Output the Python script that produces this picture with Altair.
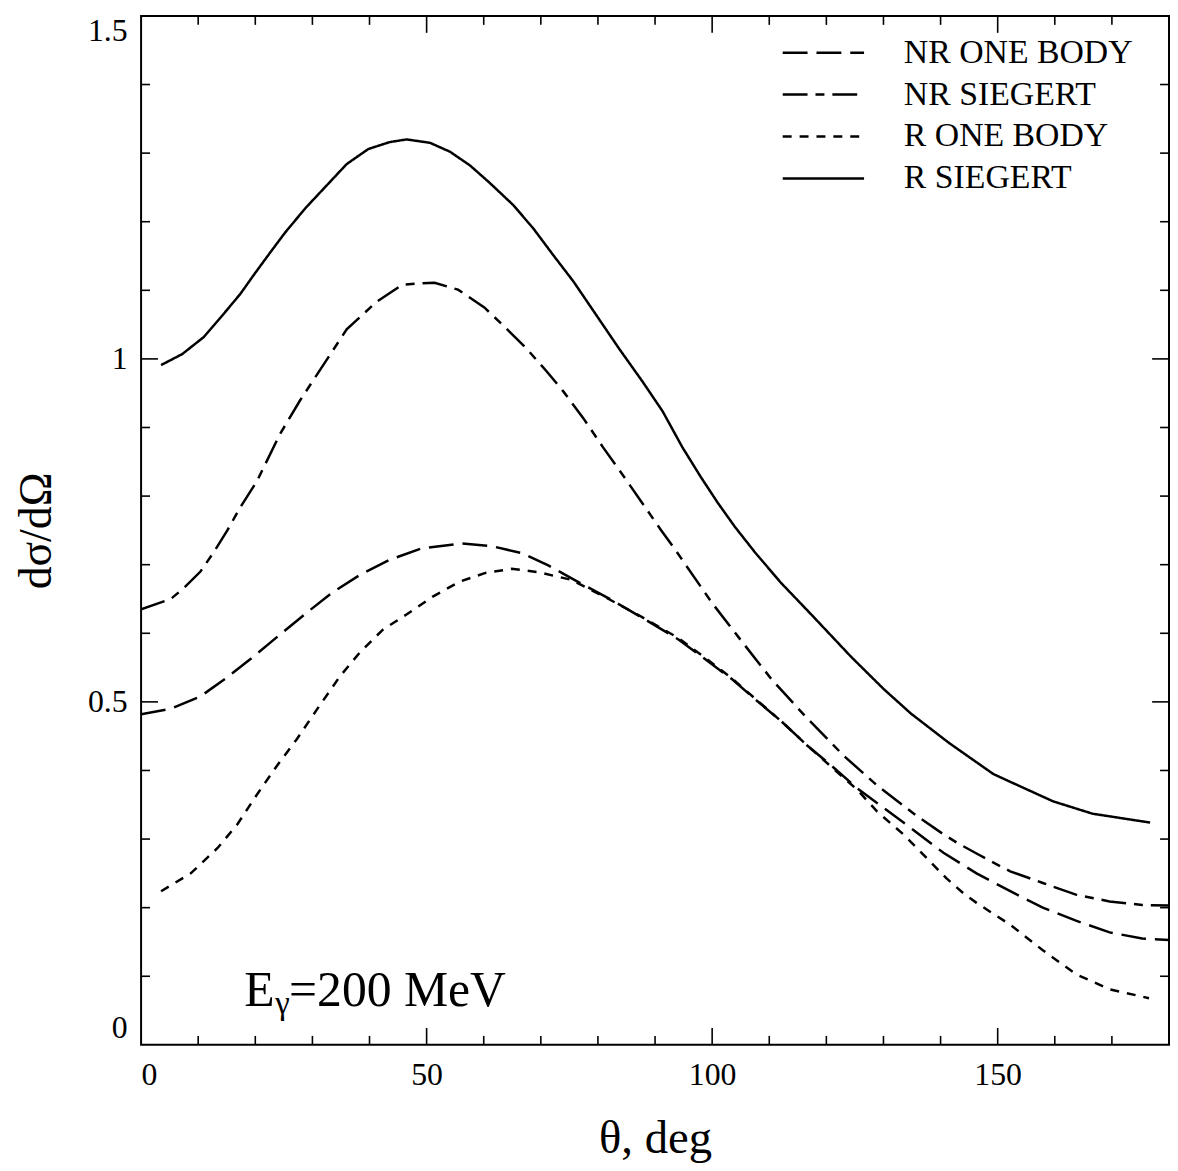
import altair as alt
import pandas as pd

FONT = "Liberation Serif"
W, H = 1035, 1036

series_names = ["NR ONE BODY", "NR SIEGERT", "R ONE BODY", "R SIEGERT"]
series_dashes = [[25, 9], [25, 8, 9, 8], [9, 8], [1, 0]]

nr_one_theta = [0, 5.2, 10.4, 15.1, 19.1, 24.3, 29, 33.6, 38.3, 43.5,
                49.2, 56.2, 61.4, 66.6, 71.3, 76.5, 82.3, 88.3, 94.1, 98.8,
                103.5, 107.5, 112.2, 116.7, 120.9, 125.4, 130.1, 134.8, 140.5, 146.3,
                152.2, 157.9, 163.7, 169.6, 175.3, 180]
nr_one_val = [0.482, 0.490, 0.508, 0.536, 0.562, 0.598, 0.630, 0.660, 0.685, 0.707,
              0.724, 0.731, 0.727, 0.717, 0.699, 0.675, 0.649, 0.620, 0.591, 0.562,
              0.533, 0.504, 0.471, 0.436, 0.407, 0.374, 0.345, 0.316, 0.280, 0.250,
              0.224, 0.200, 0.181, 0.164, 0.155, 0.153]

nr_sieg_theta = [0, 5.2, 7.5, 10.4, 12.7, 15.1, 17.4, 20.3, 24.3, 27.8,
                 30.8, 36, 41.2, 45.7, 48.3, 51.4, 55.5, 60.1, 64, 67.5,
                 71, 73.9, 77.4, 80.9, 84.5, 88, 91, 93.6, 100, 105.2,
                 110.4, 116.2, 123.1, 128.9, 135.8, 140.5, 143, 146.3, 148.7, 152.2,
                 157.9, 163.7, 169.6, 175.3, 180]
nr_sieg_val = [0.635, 0.650, 0.666, 0.690, 0.718, 0.750, 0.784, 0.822, 0.890, 0.939,
               0.977, 1.043, 1.083, 1.108, 1.110, 1.111, 1.101, 1.075, 1.044, 1.015,
               0.982, 0.953, 0.914, 0.871, 0.829, 0.787, 0.751, 0.721, 0.644, 0.588,
               0.533, 0.480, 0.421, 0.378, 0.334, 0.307, 0.294, 0.279, 0.268, 0.253,
               0.236, 0.219, 0.209, 0.204, 0.203]

r_one_theta = [3.5, 8.7, 13.4, 16.9, 20.3, 23.8, 27.3, 30.8, 34.8, 38.3,
               42.3, 46.4, 51, 55.7, 60.3, 64.9, 69.6, 75.3, 81.2, 87,
               94.1, 98.8, 103.5, 107.5, 112.2, 116.7, 120.9, 125.4, 128.9, 133.6,
               138.3, 141, 144, 146.3, 152.2, 157.9, 163.7, 169.6, 176.5]
r_one_val = [0.224, 0.250, 0.287, 0.322, 0.365, 0.407, 0.446, 0.489, 0.537, 0.572,
             0.605, 0.627, 0.653, 0.675, 0.688, 0.694, 0.689, 0.678, 0.653, 0.627,
             0.593, 0.564, 0.534, 0.505, 0.471, 0.436, 0.405, 0.372, 0.340, 0.306,
             0.266, 0.243, 0.221, 0.207, 0.175, 0.138, 0.103, 0.081, 0.068]

r_sieg_theta = [3.5, 7.2, 11, 14.5, 17.4, 19.7, 22.6, 25.2, 28.8, 32.4,
                36, 39.8, 43.5, 46.5, 50.6, 54.1, 57.6, 61, 65.2, 68.7,
                72.2, 75.7, 79.7, 83.7, 87.8, 91.3, 94.8, 98, 101, 104,
                107.5, 112, 117.4, 124.3, 130, 134.8, 141.5, 149.2, 151, 159.7,
                166.6, 176.7]
r_sieg_val = [0.991, 1.007, 1.032, 1.066, 1.095, 1.122, 1.155, 1.184, 1.220, 1.252,
              1.284, 1.306, 1.316, 1.320, 1.315, 1.302, 1.282, 1.257, 1.224, 1.190,
              1.151, 1.113, 1.064, 1.015, 0.967, 0.924, 0.871, 0.828, 0.790, 0.755,
              0.718, 0.674, 0.627, 0.566, 0.519, 0.483, 0.440, 0.395, 0.388, 0.355,
              0.337, 0.324]

x_major_ticks = [50, 100, 150]
x_minor_ticks = [10, 20, 30, 40, 60, 70, 80, 90, 110, 120, 130, 140, 160, 170]
y_major_ticks = [0.5, 1.0]
y_minor_ticks = [0.1, 0.2, 0.3, 0.4, 0.6, 0.7, 0.8, 0.9, 1.1, 1.2, 1.3, 1.4]

x_label_values = [0, 50, 100, 150]
y_label_values = [0, 0.5, 1, 1.5]

rows = []
for name, xs, ys in zip(series_names,
                        [nr_one_theta, nr_sieg_theta, r_one_theta, r_sieg_theta],
                        [nr_one_val, nr_sieg_val, r_one_val, r_sieg_val]):
    for i, (a, b) in enumerate(zip(xs, ys)):
        rows.append({"series": name, "theta": a, "value": b, "i": i})
df = pd.DataFrame(rows)

xscale = alt.Scale(domain=[0, 180], nice=False, zero=False)
yscale = alt.Scale(domain=[0, 1.5], nice=False, zero=False)

x_axis = alt.Axis(title="θ, deg", values=x_label_values, ticks=False, domain=False,
                  grid=False, labelFont=FONT, labelFontSize=32, labelColor="black",
                  labelPadding=15, labelFlush=True, labelExpr="datum.value",
                  titleFont=FONT, titleFontSize=47, titleFontWeight="normal",
                  titleColor="black", titleBaseline="alphabetic", titleY=108)
y_axis = alt.Axis(title="dσ/dΩ", values=y_label_values, ticks=False, domain=False,
                  grid=False, labelFont=FONT, labelFontSize=32, labelColor="black",
                  labelPadding=14, labelFlush=True, labelExpr="datum.value",
                  titleFont=FONT, titleFontSize=46, titleFontWeight="normal",
                  titleColor="black", titleAngle=-90, titleX=-105, titleY=H / 2,
                  titleAlign="center", titleBaseline="middle")

lines = alt.Chart(df).mark_line(color="black", strokeWidth=2.5, clip=True).encode(
    x=alt.X("theta:Q", scale=xscale, axis=x_axis),
    y=alt.Y("value:Q", scale=yscale, axis=y_axis),
    strokeDash=alt.StrokeDash(
        "series:N",
        scale=alt.Scale(domain=series_names, range=series_dashes),
        sort=series_names,
        legend=alt.Legend(orient="none", legendX=666, legendY=16, title=None,
                          symbolType="M-2.1,0L2.1,0", symbolSize=1521,
                          symbolStrokeWidth=2.5, symbolStrokeColor="black",
                          symbolFillColor="transparent",
                          labelFont=FONT, labelFontSize=34, labelColor="black",
                          labelLimit=500, labelOffset=60, rowPadding=4.2, padding=0)),
    detail="series:N",
    order="i:Q",
)


def tick_layer(values, channel, length, side):
    d = pd.DataFrame({"theta" if channel == "x" else "value": values})
    base = alt.Chart(d).mark_rule(color="black", strokeWidth=1.6)
    if channel == "x":
        enc = dict(x=alt.X("theta:Q", scale=xscale, axis=x_axis))
        if side == "bottom":
            enc.update(y=alt.value(H), y2=alt.value(H - length))
        else:
            enc.update(y=alt.value(0), y2=alt.value(length))
    else:
        enc = dict(y=alt.Y("value:Q", scale=yscale, axis=y_axis))
        if side == "left":
            enc.update(x=alt.value(0), x2=alt.value(length))
        else:
            enc.update(x=alt.value(W), x2=alt.value(W - length))
    return base.encode(**enc)


ticks = []
for side in ["bottom", "top"]:
    ticks.append(tick_layer(x_major_ticks, "x", 17, side))
    ticks.append(tick_layer(x_minor_ticks, "x", 9, side))
for side in ["left", "right"]:
    ticks.append(tick_layer(y_major_ticks, "y", 17, side))
    ticks.append(tick_layer(y_minor_ticks, "y", 9, side))


def text_layer(s, x, y, size):
    return alt.Chart(pd.DataFrame({"t": [s]})).mark_text(
        font=FONT, fontSize=size, align="left", baseline="alphabetic", color="black"
    ).encode(text="t:N", x=alt.value(x), y=alt.value(y))


annot = [
    text_layer("E", 104, 997, 50),
    text_layer("γ", 135, 1005, 33),
    text_layer("=200 MeV", 149, 997, 50),
]

chart = alt.layer(lines, *ticks, *annot).properties(
    width=W, height=H,
    autosize=alt.AutoSizeParams(type="none"),
    padding={"left": 134, "top": 4, "right": 1, "bottom": 118},
    background="white",
).configure_view(stroke="black", strokeWidth=2)

chart.save("out.html", embed_options={"renderer": "svg", "actions": False})
